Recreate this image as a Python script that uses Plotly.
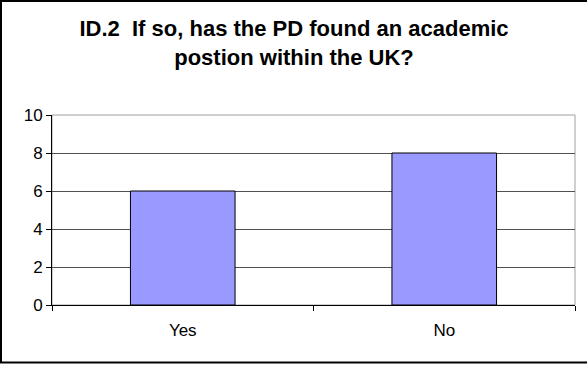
import plotly.graph_objects as go

categories = ["Yes", "No"]
values = [6, 8]
title_text = "<b>ID.2  If so, has the PD found an academic<br>postion within the UK?</b>"

W, H = 587, 365
L, R, T, B = 52, 575, 115, 305
pw, ph = R - L, B - T

def px(x):
    return (x - L) / pw

def py(y):
    return (B - y) / ph

fig = go.Figure()
fig.add_trace(go.Bar(
    x=categories, y=values,
    marker=dict(color="#9999ff", line=dict(color="#000000", width=1)),
    width=0.4,
))

shapes = [
    dict(type="rect", xref="paper", yref="paper", x0=0, x1=1, y0=0, y1=1,
         line=dict(color="#a0a0a0", width=1), layer="below"),
    dict(type="rect", xref="paper", yref="paper", x0=px(1), x1=px(600), y0=py(362.5), y1=py(1),
         line=dict(color="#000000", width=2)),
]

fig.update_layout(
    width=W, height=H,
    margin=dict(l=L, r=W - R, t=T, b=H - B, pad=0),
    paper_bgcolor="white", plot_bgcolor="white",
    showlegend=False,
    title=dict(text=title_text, x=294 / W, xanchor="center", xref="container",
               y=1 - 36 / H, yanchor="middle", yref="container",
               font=dict(family="Arial, Liberation Sans", size=22, color="#000000")),
    font=dict(family="Arial, Liberation Sans", size=17, color="#000000"),
    bargap=0.6,
    shapes=shapes,
    xaxis=dict(type="category", tickson="boundaries", ticks="outside", ticklen=5,
               tickcolor="#000000", showline=True, linecolor="#000000", linewidth=1,
               showgrid=False, ticklabelstandoff=10, tickfont=dict(size=17)),
    yaxis=dict(range=[0, 10], dtick=2, ticks="outside", ticklen=5, tickcolor="#000000",
               showline=True, linecolor="#000000", linewidth=1,
               showgrid=True, gridcolor="#505050", gridwidth=1, zeroline=False,
               ticklabelstandoff=0, tickfont=dict(size=17)),
)

fig.write_html("out.html")
